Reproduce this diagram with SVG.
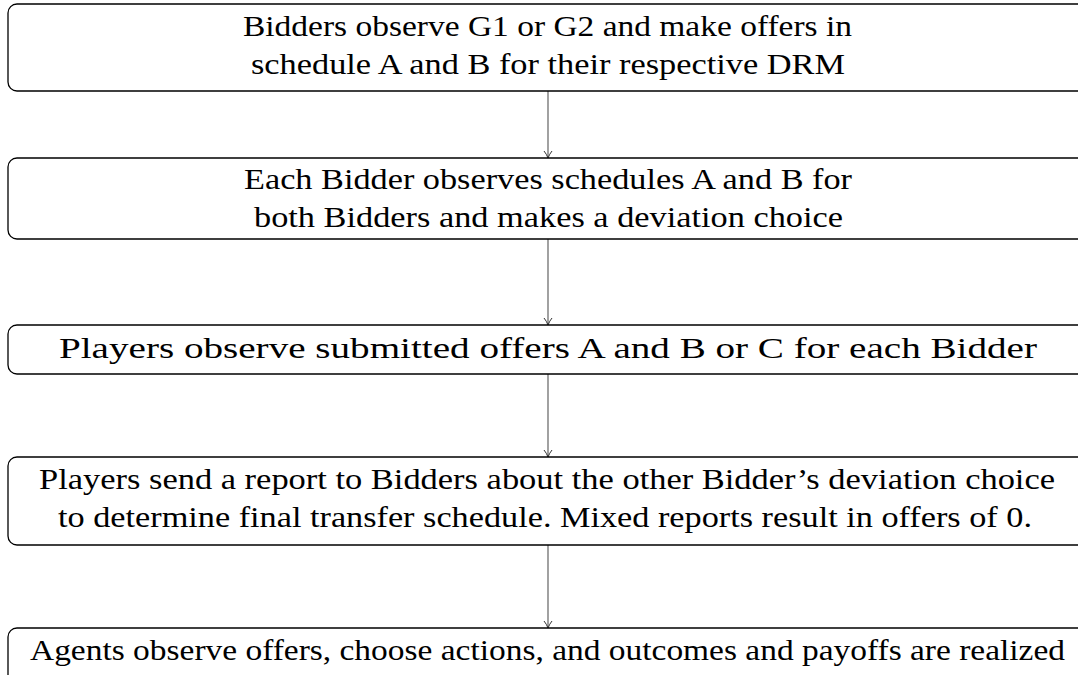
<svg xmlns="http://www.w3.org/2000/svg" width="1078" height="675" viewBox="0 0 1078 675">
<defs>
<style>
.box{fill:#fff;stroke:#000;stroke-width:1.3}
.t{font-family:"Liberation Serif","Times New Roman",Times,serif;font-size:30px;fill:#000}
.c{stroke:#555;stroke-width:1.1;fill:none}
</style>
<marker id="arr" viewBox="0 0 10 10" refX="9" refY="5" markerWidth="10" markerHeight="10" markerUnits="userSpaceOnUse" orient="auto">
<path d="M2,1 Q5,3.5 9,5 Q5,6.5 2,9" fill="none" stroke="#333" stroke-width="1"/>
</marker>
</defs>
<rect width="1078" height="675" fill="#fff"/>
<g id="connectors">
<line class="c" x1="548" y1="91" x2="548" y2="158" marker-end="url(#arr)"/>
<line class="c" x1="548" y1="239" x2="548" y2="325" marker-end="url(#arr)"/>
<line class="c" x1="548" y1="374" x2="548" y2="457" marker-end="url(#arr)"/>
<line class="c" x1="548" y1="545" x2="548" y2="628" marker-end="url(#arr)"/>
</g>
<g id="node1">
<rect class="box" x="8" y="4" width="1100" height="87" rx="9"/>
<text class="t" x="243" y="36" textLength="609" lengthAdjust="spacingAndGlyphs">Bidders observe G1 or G2 and make offers in</text>
<text class="t" x="251" y="74" textLength="594" lengthAdjust="spacingAndGlyphs">schedule A and B for their respective DRM</text>
</g>
<g id="node2">
<rect class="box" x="8" y="158" width="1100" height="81" rx="9"/>
<text class="t" x="244" y="189" textLength="608" lengthAdjust="spacingAndGlyphs">Each Bidder observes schedules A and B for</text>
<text class="t" x="254" y="227" textLength="589" lengthAdjust="spacingAndGlyphs">both Bidders and makes a deviation choice</text>
</g>
<g id="node3">
<rect class="box" x="8" y="325" width="1100" height="49" rx="9"/>
<text class="t" x="59" y="358" textLength="978" lengthAdjust="spacingAndGlyphs">Players observe submitted offers A and B or C for each Bidder</text>
</g>
<g id="node4">
<rect class="box" x="8" y="457" width="1100" height="88" rx="9"/>
<text class="t" x="39" y="489" textLength="1016" lengthAdjust="spacingAndGlyphs">Players send a report to Bidders about the other Bidder’s deviation choice</text>
<text class="t" x="58" y="527" textLength="974" lengthAdjust="spacingAndGlyphs">to determine final transfer schedule. Mixed reports result in offers of 0.</text>
</g>
<g id="node5">
<rect class="box" x="8" y="628" width="1100" height="80" rx="9"/>
<text class="t" x="30" y="660" textLength="1035" lengthAdjust="spacingAndGlyphs">Agents observe offers, choose actions, and outcomes and payoffs are realized</text>
</g>
</svg>
